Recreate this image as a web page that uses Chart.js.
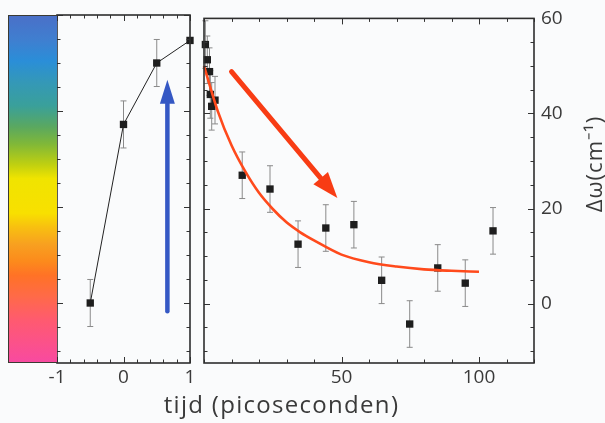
<!DOCTYPE html>
<html><head><meta charset="utf-8">
<script src="https://cdn.jsdelivr.net/npm/chart.js@4/dist/chart.umd.min.js"></script>
<style>
html,body{margin:0;padding:0;background:#fafbfc;width:605px;height:423px;overflow:hidden;}
#wrap{position:relative;width:605px;height:423px;}
#cL{position:absolute;left:0;top:0;}
#cR{position:absolute;left:190px;top:0;}
#bar{position:absolute;left:8px;top:15px;width:49px;height:348px;box-sizing:border-box;border:1.5px solid #3b3a33;border-right:none;
background:linear-gradient(to bottom,#4a70c8 0%,#3f7fd0 7%,#2a8ed8 13%,#3498b8 19%,#3aa09a 26%,#5aa860 32%,#80b838 37%,#c0d010 43%,#f0e400 47%,#f8e000 57%,#f8c010 61%,#f8a020 66%,#fc8a1c 71%,#ff7226 75%,#ff6a48 81%,#ff5a70 88%,#f84aa0 100%);}
#xt{position:absolute;left:0;width:563px;top:390px;text-align:center;font:24px "Open Sans",sans-serif;letter-spacing:1.3px;color:#3a3a3a;line-height:28px;}
#yt{position:absolute;left:512px;top:150px;width:160px;height:28px;line-height:28px;text-align:center;font:22px "Open Sans",sans-serif;letter-spacing:1px;color:#3a3a3a;transform:rotate(-90deg);transform-origin:80px 14px;}
</style></head>
<body><div id="wrap">
<canvas id="cL" width="200" height="423"></canvas>
<canvas id="cR" width="415" height="423"></canvas>
<div id="bar"></div>
<div id="xt">tijd (picoseconden)</div>
<div id="yt">Δω(cm⁻¹)</div>
</div>
<script>
// ---- data ----
const leftX = [-0.5, 0, 0.5, 1];
const leftY = [0, 37.2, 50.0, 54.7];
const leftErr = [4.9, 4.9, 4.9, 0];

const rightX = [0.5, 1.2, 2, 2.3, 2.8, 4, 13.9, 24, 34.2, 44.3, 54.5, 64.6, 74.8, 85, 95, 105.1];
const rightY = [54.5, 51.3, 48.8, 44, 41.5, 42.8, 27, 24.1, 12.5, 15.9, 16.6, 4.9, -4.3, 7.5, 4.3, 15.3];
const rightErr = [5, 5, 5, 5, 5, 5, 4.9, 4.9, 4.9, 4.9, 4.9, 4.9, 4.9, 4.9, 4.9, 4.9];

const fitX = [0, 5, 10, 15, 20, 25, 30, 35, 40, 50, 60, 70, 80, 90, 100];
const fitY = [50.0, 40.5, 33.3, 27.8, 23.3, 19.9, 17.1, 15.0, 13.3, 10.3, 8.7, 7.8, 7.2, 6.9, 6.7];

const leftXTicks = [-1, -0.8, -0.6, -0.4, -0.2, 0, 0.2, 0.4, 0.6, 0.8, 1];
const leftXLabels = [-1, 0, 1];
const rightXTicks = [0, 10, 20, 30, 40, 50, 60, 70, 80, 90, 100, 110, 120];
const rightXLabels = [50, 100];
const yTicks = [-10, -5, 0, 5, 10, 15, 20, 25, 30, 35, 40, 45, 50, 55, 60];
const yLabels = [0, 20, 40, 60];

// annotation arrows in data units
const blueArrow = { from: [0.66, -1.7], to: [0.66, 46.5] };
const redArrow = { from: [10, 48.8], to: [48.5, 22.2] };

const TXT = '#3a3a3a';
const FONT = "'Open Sans', sans-serif";
const isIn = (v, arr) => arr.some(a => Math.abs(a - v) < 1e-9);

const errorBars = {
  id: 'errorBars',
  beforeDatasetsDraw(chart) {
    const ctx = chart.ctx, xs = chart.scales.x, ys = chart.scales.y;
    ctx.save();
    ctx.strokeStyle = '#8a8a8a'; ctx.lineWidth = 1;
    chart.data.datasets.forEach(ds => {
      if (!ds.errorBars) return;
      ds.data.forEach((p, i) => {
        const e = ds.errorBars[i];
        if (!e) return;
        const px = xs.getPixelForValue(p.x);
        const y1 = ys.getPixelForValue(p.y + e), y2 = ys.getPixelForValue(p.y - e);
        ctx.beginPath();
        ctx.moveTo(px, y1); ctx.lineTo(px, y2);
        ctx.moveTo(px - 3, y1); ctx.lineTo(px + 3, y1);
        ctx.moveTo(px - 3, y2); ctx.lineTo(px + 3, y2);
        ctx.stroke();
      });
    });
    ctx.restore();
  }
};

function frameFor(xTicks, xLabels) {
  return {
    id: 'frame',
    afterDatasetsDraw(chart) {
      const ctx = chart.ctx, a = chart.chartArea, xs = chart.scales.x, ys = chart.scales.y;
      ctx.save();
      ctx.strokeStyle = '#333'; ctx.lineWidth = 1;
      ctx.beginPath();
      xTicks.forEach(v => {
        const px = Math.round(xs.getPixelForValue(v)) + 0.5;
        const L = isIn(v, xLabels) ? 6 : 3.5;
        ctx.moveTo(px, a.bottom); ctx.lineTo(px, a.bottom - L);
        ctx.moveTo(px, a.top); ctx.lineTo(px, a.top + L);
      });
      yTicks.forEach(v => {
        const py = Math.round(ys.getPixelForValue(v)) + 0.5;
        const L = isIn(v, yLabels) ? 6 : 3.5;
        ctx.moveTo(a.left, py); ctx.lineTo(a.left + L, py);
        ctx.moveTo(a.right, py); ctx.lineTo(a.right - L, py);
      });
      ctx.stroke();
      ctx.lineWidth = 1.6; ctx.strokeStyle = '#2e2e2e';
      ctx.strokeRect(a.left, a.top, a.right - a.left, a.bottom - a.top);
      ctx.restore();
    }
  };
}

function drawArrow(chart, arr, color, shaftW, headLen, headW) {
  const ctx = chart.ctx, xs = chart.scales.x, ys = chart.scales.y;
  const x1 = xs.getPixelForValue(arr.from[0]), y1 = ys.getPixelForValue(arr.from[1]);
  const x2 = xs.getPixelForValue(arr.to[0]), y2 = ys.getPixelForValue(arr.to[1]);
  const ang = Math.atan2(y2 - y1, x2 - x1);
  const bx = x2 - headLen * Math.cos(ang), by = y2 - headLen * Math.sin(ang);
  ctx.save();
  ctx.strokeStyle = color; ctx.fillStyle = color; ctx.lineWidth = shaftW; ctx.lineCap = 'round';
  ctx.beginPath(); ctx.moveTo(x1, y1); ctx.lineTo(bx, by); ctx.stroke();
  const nx = -Math.sin(ang), ny = Math.cos(ang);
  ctx.beginPath();
  ctx.moveTo(x2, y2);
  ctx.lineTo(bx + nx * headW / 2, by + ny * headW / 2);
  ctx.lineTo(bx + 3 * Math.cos(ang) * 0, by);
  ctx.lineTo(bx - nx * headW / 2, by - ny * headW / 2);
  ctx.closePath(); ctx.fill();
  ctx.restore();
}

function yScale(show) {
  return {
    type: 'linear', min: -12.5, max: 60,
    display: show, position: 'right',
    afterBuildTicks: s => { s.ticks = yTicks.map(v => ({ value: v })); },
    afterFit: s => { if (show) s.width = 71; },
    grid: { display: false, drawTicks: false },
    border: { display: false },
    ticks: { autoSkip: false, padding: 7, color: TXT, font: { family: FONT, size: 19 },
      callback: v => isIn(v, yLabels) ? String(v) : '' }
  };
}
function xScale(min, max, ticks, labels) {
  return {
    type: 'linear', min, max, position: 'bottom',
    afterBuildTicks: s => { s.ticks = ticks.map(v => ({ value: v })); },
    afterFit: s => { s.height = 60; },
    grid: { display: false, drawTicks: false },
    border: { display: false },
    ticks: { autoSkip: false, maxRotation: 0, padding: 3, color: TXT, font: { family: FONT, size: 19 },
      callback: v => isIn(v, labels) ? String(Math.round(v)) : '' }
  };
}

new Chart(document.getElementById('cL'), {
  type: 'scatter',
  data: { datasets: [{
    data: leftX.map((x, i) => ({ x, y: leftY[i] })),
    errorBars: leftErr,
    showLine: true, borderColor: '#222', borderWidth: 1,
    pointStyle: 'rect', pointRadius: 5.2, pointBackgroundColor: '#1e1e1e', pointBorderWidth: 0,
    clip: false
  }]},
  options: {
    responsive: false, animation: false, devicePixelRatio: 1,
    layout: { padding: { left: 57, right: 10, top: 15, bottom: 0 } },
    plugins: { legend: { display: false }, tooltip: { enabled: false } },
    scales: { x: xScale(-1, 1, leftXTicks, leftXLabels), y: yScale(false) }
  },
  plugins: [errorBars, frameFor(leftXTicks, leftXLabels), {
    id: 'arrowL', afterDraw(chart) { drawArrow(chart, blueArrow, '#3558c4', 4.5, 24, 15); }
  }]
});

new Chart(document.getElementById('cR'), {
  type: 'scatter',
  data: { datasets: [
    { type: 'line', data: fitX.map((x, i) => ({ x, y: fitY[i] })),
      borderColor: '#ff4a1c', borderWidth: 2.6, pointRadius: 0, cubicInterpolationMode: 'monotone', fill: false, clip: false },
    { data: rightX.map((x, i) => ({ x, y: rightY[i] })), errorBars: rightErr,
      pointStyle: 'rect', pointRadius: 5.2, pointBackgroundColor: '#1e1e1e', pointBorderWidth: 0, clip: false }
  ]},
  options: {
    responsive: false, animation: false, devicePixelRatio: 1,
    layout: { padding: { left: 14, right: 0, top: 15, bottom: 0 } },
    plugins: { legend: { display: false }, tooltip: { enabled: false } },
    scales: { x: xScale(0, 120, rightXTicks, rightXLabels), y: yScale(true) }
  },
  plugins: [errorBars, frameFor(rightXTicks, rightXLabels), {
    id: 'arrowR', afterDraw(chart) { drawArrow(chart, redArrow, '#f83c14', 5, 26, 19); }
  }]
});
</script>
</body></html>
